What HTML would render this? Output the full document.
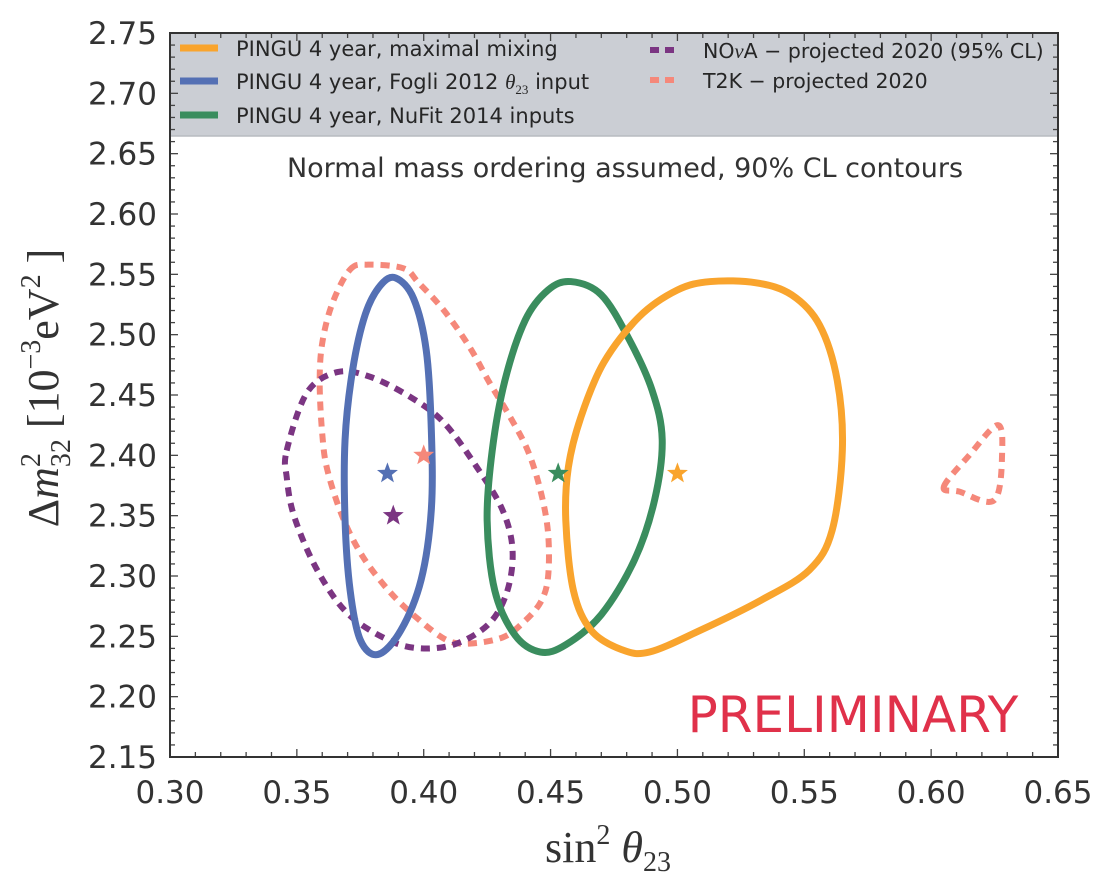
<!DOCTYPE html>
<html><head><meta charset="utf-8"><style>
body{margin:0;background:#fff}
svg{display:block;font-family:"DejaVu Sans","Liberation Sans",sans-serif}
</style></head><body>
<svg id="chart" width="1110" height="888" viewBox="0 0 1110 888">
<rect x="170" y="33" width="888" height="103" fill="#cbced4"/>
<line x1="170" y1="136" x2="1058" y2="136" stroke="#b8bbc0" stroke-width="1.5"/>
<g id="ticks"></g>
<g id="series"></g>
<rect x="170" y="33" width="888" height="724" fill="none" stroke="#333" stroke-width="2"/>
<g font-size="21" fill="#262626">
 <line x1="180" y1="48" x2="218" y2="48" stroke="#f9a42d" stroke-width="7"/>
 <text x="236" y="56">PINGU 4 year, maximal mixing</text>
 <line x1="180" y1="81" x2="218" y2="81" stroke="#5470b4" stroke-width="7"/>
 <text x="236" y="89">PINGU 4 year, Fogli 2012 <tspan font-family="Liberation Serif,serif" font-style="italic">θ</tspan><tspan font-family="Liberation Serif,serif" font-size="13" dy="5">23</tspan><tspan dy="-5"> input</tspan></text>
 <line x1="180" y1="115" x2="218" y2="115" stroke="#3a8d5e" stroke-width="7"/>
 <text x="236" y="123">PINGU 4 year, NuFit 2014 inputs</text>
 <line x1="650" y1="50" x2="680" y2="50" stroke="#7b3582" stroke-width="6" stroke-dasharray="9,6"/>
 <text x="703" y="58" font-size="20.5">NO<tspan font-family="Liberation Serif,serif" font-style="italic">ν</tspan>A − projected 2020 (95% CL)</text>
 <line x1="650" y1="80" x2="680" y2="80" stroke="#f5887a" stroke-width="6" stroke-dasharray="9,6"/>
 <text x="703" y="88" font-size="20.5">T2K − projected 2020</text>
</g>
<text x="625" y="177" font-size="27" fill="#333" text-anchor="middle">Normal mass ordering assumed, 90% CL contours</text>
<text x="853" y="732" font-size="50" fill="#e0314a" text-anchor="middle">PRELIMINARY</text>
<text x="608" y="862" font-size="44" fill="#333" text-anchor="middle" font-family="Liberation Serif,serif">sin<tspan font-size="28" dy="-18">2</tspan><tspan dy="18"> </tspan><tspan font-style="italic">θ</tspan><tspan font-size="28" dy="9">23</tspan></text>
<text transform="translate(58,388) rotate(-90)" font-size="44" fill="#333" text-anchor="middle" font-family="Liberation Serif,serif">Δ<tspan font-style="italic">m</tspan><tspan font-size="28" dy="-18">2</tspan><tspan font-size="28" dx="-14" dy="30">32</tspan><tspan dy="-12"> [10</tspan><tspan font-size="28" dy="-18">−3</tspan><tspan dy="18">eV</tspan><tspan font-size="28" dy="-18">2</tspan><tspan dy="18"> ]</tspan></text>
</svg>
<script>
const xTicks=[0.30,0.35,0.40,0.45,0.50,0.55,0.60,0.65];
const yTicks=[2.15,2.20,2.25,2.30,2.35,2.40,2.45,2.50,2.55,2.60,2.65,2.70,2.75];
const maxX=[0.513,0.531,0.545,0.556,0.563,0.565,0.561,0.552,0.533,0.509,0.489,0.478,0.466,0.459,0.456,0.457,0.462,0.471,0.485,0.500];
const maxY=[2.544,2.543,2.533,2.508,2.462,2.404,2.338,2.305,2.280,2.255,2.237,2.239,2.255,2.288,2.346,2.390,2.432,2.477,2.515,2.537];
const nufitX=[0.458,0.470,0.481,0.490,0.494,0.491,0.483,0.470,0.456,0.446,0.436,0.428,0.425,0.427,0.432,0.440,0.449];
const nufitY=[2.544,2.533,2.496,2.454,2.413,2.363,2.313,2.268,2.243,2.237,2.251,2.288,2.346,2.404,2.462,2.512,2.537];
const fogliX=[0.389,0.396,0.401,0.403,0.403,0.399,0.391,0.382,0.375,0.371,0.369,0.369,0.372,0.377,0.383];
const fogliY=[2.547,2.530,2.487,2.421,2.355,2.297,2.255,2.235,2.247,2.288,2.346,2.413,2.471,2.517,2.541];
const novaX=[0.346,0.354,0.366,0.379,0.395,0.408,0.421,0.431,0.435,0.433,0.426,0.413,0.399,0.386,0.370,0.358,0.349,0.346];
const novaY=[2.404,2.452,2.469,2.465,2.448,2.427,2.390,2.355,2.322,2.288,2.261,2.244,2.240,2.247,2.269,2.305,2.349,2.382];
const t2kX=[0.371,0.378,0.392,0.398,0.408,0.418,0.426,0.434,0.441,0.446,0.449,0.449,0.446,0.439,0.431,0.418,0.409,0.398,0.387,0.376,0.368,0.362,0.360,0.359,0.360,0.364];
const t2kY=[2.554,2.558,2.555,2.543,2.520,2.490,2.460,2.432,2.404,2.371,2.336,2.299,2.278,2.261,2.249,2.244,2.247,2.264,2.286,2.316,2.349,2.388,2.418,2.460,2.493,2.526];
const t2kIslandX=[0.605,0.615,0.626,0.628,0.625,0.611];
const t2kIslandY=[2.374,2.400,2.425,2.404,2.363,2.370];
const starX=[0.500,0.3857,0.453,0.388,0.400];
const starY=[2.385,2.385,2.385,2.350,2.400];
const starColors=['#f9a42d','#5470b4','#3a8d5e','#7b3582','#f5887a'];
const starNames=['star-maximal','star-fogli','star-nufit','star-nova','star-t2k'];

const X0=170,X1=1058,Y0=757,Y1=33;
function sx(v){return X0+(v-0.30)/(0.35)*(X1-X0);}
function sy(v){return Y0-(v-2.15)/(0.60)*(Y0-Y1);}
const NS='http://www.w3.org/2000/svg';
const tg=document.getElementById('ticks'),sg=document.getElementById('series');
function mk(t,a,p){const e=document.createElementNS(NS,t);for(const k in a)e.setAttribute(k,a[k]);p.appendChild(e);return e;}
for(let i=0;i<=35;i++){const x=sx(0.30+i*0.01);const L=i%5==0?8:5;
 mk('line',{x1:x,y1:Y0,x2:x,y2:Y0-L,stroke:'#444','stroke-width':1.3},tg);
 mk('line',{x1:x,y1:Y1,x2:x,y2:Y1+L,stroke:'#444','stroke-width':1.3},tg);}
for(let i=0;i<=60;i++){const y=sy(2.15+i*0.01);const L=i%5==0?8:5;
 mk('line',{x1:X0,y1:y,x2:X0+L,y2:y,stroke:'#444','stroke-width':1.3},tg);
 mk('line',{x1:X1,y1:y,x2:X1-L,y2:y,stroke:'#444','stroke-width':1.3},tg);}
xTicks.forEach(v=>{const t=mk('text',{x:sx(v),y:803,'font-size':31,fill:'#333','text-anchor':'middle'},tg);t.textContent=v.toFixed(2);

});
yTicks.forEach(v=>{const t=mk('text',{x:157,y:sy(v)+11,'font-size':31,fill:'#333','text-anchor':'end'},tg);t.textContent=v.toFixed(2);

});
function smooth(xs,ys){const p=xs.map((x,i)=>[sx(x),sy(ys[i])]);const n=p.length;let d='M'+p[0][0]+','+p[0][1];
 for(let i=0;i<n;i++){const p0=p[(i-1+n)%n],p1=p[i],p2=p[(i+1)%n],p3=p[(i+2)%n];
  d+=' C'+(p1[0]+(p2[0]-p0[0])/6)+','+(p1[1]+(p2[1]-p0[1])/6)+' '+(p2[0]-(p3[0]-p1[0])/6)+','+(p2[1]-(p3[1]-p1[1])/6)+' '+p2[0]+','+p2[1];}
 return d+'Z';}
function contour(xs,ys,col,dash,name){const e=mk('path',{d:smooth(xs,ys),fill:'none',stroke:col,'stroke-width':dash?6:7,'stroke-linejoin':'round'},sg);
 if(dash)e.setAttribute('stroke-dasharray','9,7');
 
 }
contour(t2kX,t2kY,'#f5887a',true,'contour-t2k');
contour(t2kIslandX,t2kIslandY,'#f5887a',true,'contour-t2k-island');
contour(novaX,novaY,'#7b3582',true,'contour-nova');
contour(fogliX,fogliY,'#5470b4',false,'contour-fogli');
contour(nufitX,nufitY,'#3a8d5e',false,'contour-nufit');
contour(maxX,maxY,'#f9a42d',false,'contour-maximal');
function star(cx,cy,r){let d='';for(let i=0;i<10;i++){const a=-Math.PI/2+i*Math.PI/5;const rr=i%2?r*0.42:r;d+=(i?'L':'M')+(cx+rr*Math.cos(a))+','+(cy+rr*Math.sin(a));}return d+'Z';}
starX.forEach((v,i)=>{const e=mk('path',{d:star(sx(v),sy(starY[i]),11),fill:starColors[i]},sg);
 
 });
</script>
</body></html>
